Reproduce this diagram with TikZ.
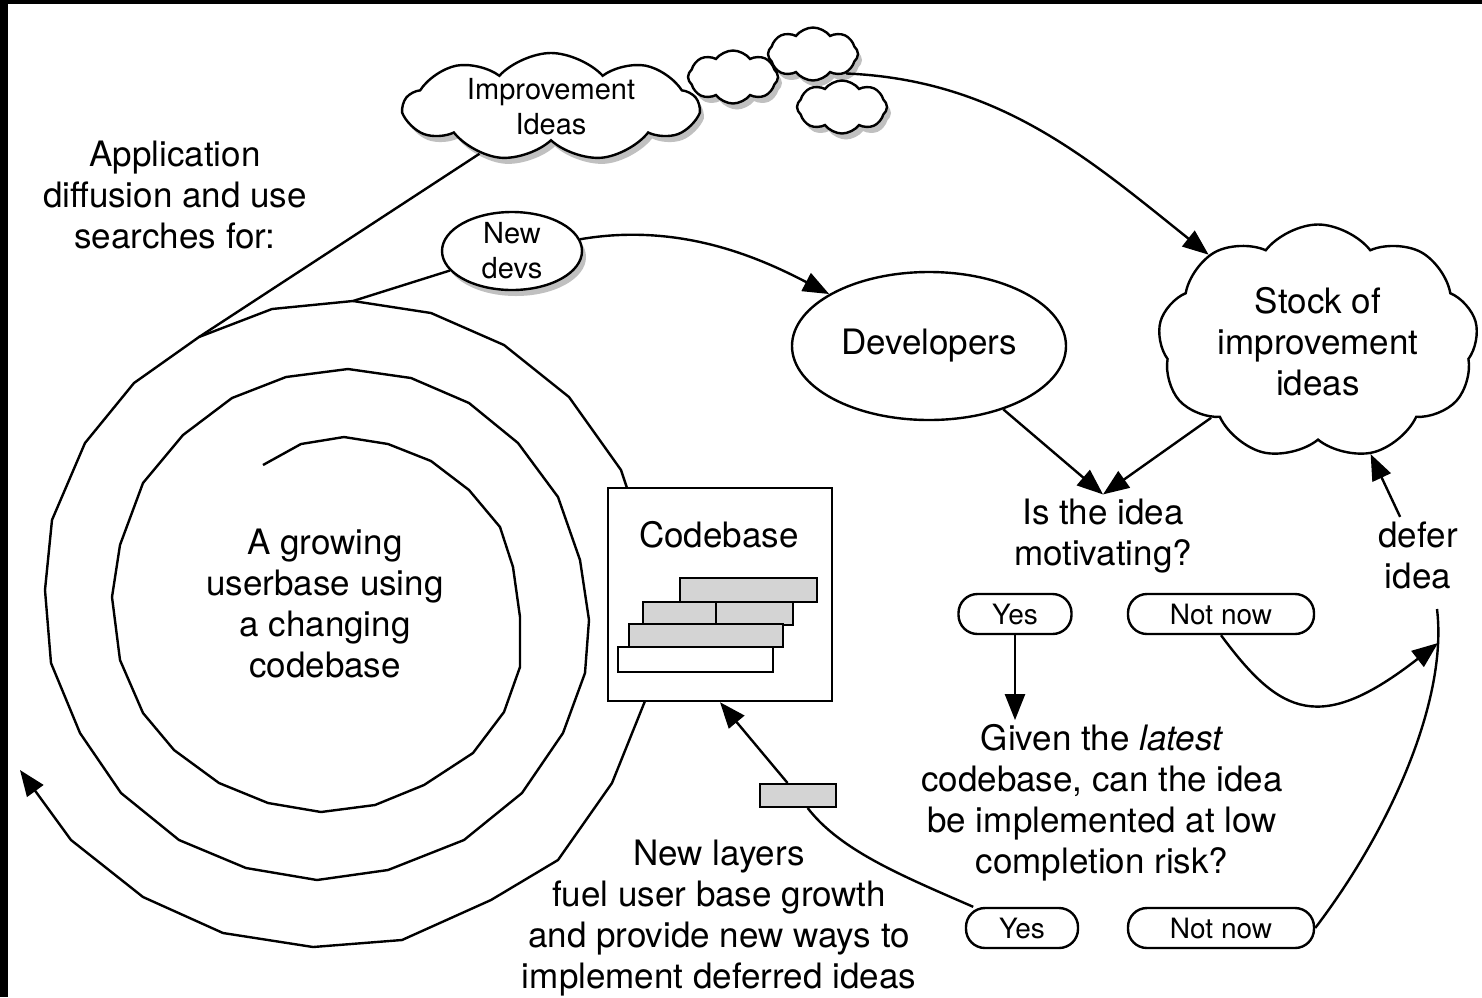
\documentclass[tikz,border=0pt]{standalone}
\usepackage{fontspec}
\setmainfont{TeX Gyre Heros}
\usetikzlibrary{arrows.meta,shapes.geometric,shapes.symbols,shadows}

\newcommand{\bigtxt}{\fontsize{35}{41}\selectfont}
\newcommand{\smalltxt}{\fontsize{29}{35}\selectfont}

\begin{document}
\begin{tikzpicture}[x=1pt,y=-1pt,line width=2.4pt,
    >={Triangle[length=26pt,width=20pt]},
    shadowed/.style={drop shadow={shadow xshift=4pt,shadow yshift=-6pt,opacity=0.45,fill=black!55}},
    puff/.style={cloud,draw,fill=white,cloud ignores aspect,cloud puff arc=105,inner sep=0pt},
    pill/.style={draw,rounded corners=19pt,minimum height=40pt,inner sep=0pt,font=\fontsize{28}{33}\selectfont},
    layer/.style={draw,fill=black!17,line width=2pt}]
    \useasboundingbox (0,0) rectangle (1482,997);
    \fill[black] (0,0) rectangle (1482,4);
    \fill[black] (0,0) rectangle (8,997);

    \begin{scope}[every node/.style={align=center,font=\bigtxt}]
        \node (17) at (175,195) {Application\\diffusion and use\\searches for:};
        \node (19) at (325,603) {A growing\\userbase using\\a changing\\codebase};
        \node (18) at (719,918) {New layers\\fuel user base growth\\and provide new ways to\\implement deferred ideas};
        \node (8) at (1103,536) {Is the idea\\motivating?};
        \node (11) at (1102,803) {Given the \textit{latest}\\codebase, can the idea\\be implemented at low\\completion risk?};
        \node (14) at (1418,555) {defer\\idea};
        \node (6) [ellipse,draw,minimum width=274pt,minimum height=148pt] at (929,346) {Developers};
        \node (15) [draw,minimum width=224pt,minimum height=213pt,inner sep=0pt] at (720,594.5) {};
        \node (cb) at (719,535) {Codebase};
        \node (7) [puff,cloud puffs=9,minimum width=320pt,minimum height=235pt,
            label={[align=center,font=\bigtxt]center:Stock of\\improvement\\ideas}] at (1318,342) {};
    \end{scope}

    \begin{scope}[every node/.style={align=center,font=\smalltxt}]
        \node (1) [puff,shadowed,cloud puffs=9,cloud puff arc=95,minimum width=294pt,minimum height=108pt,
            label={[align=center,font=\smalltxt]center:Improvement\\Ideas}] at (551,107) {};
        \node (2) [puff,shadowed,cloud puffs=8,minimum width=90pt,minimum height=53pt] at (733,77) {};
        \node (3) [puff,shadowed,cloud puffs=8,minimum width=90pt,minimum height=53pt] at (813,54) {};
        \node (4) [puff,shadowed,cloud puffs=8,minimum width=90pt,minimum height=53pt] at (842,107) {};
        \node (5) [ellipse,draw,fill=white,shadowed,minimum width=140pt,minimum height=78pt,inner sep=0pt,
            label={[align=center,font=\smalltxt]center:New\\devs}] at (512,251) {};
        \node (9) [pill,minimum width=113pt] at (1015,614) {Yes};
        \node (10) [pill,minimum width=186pt] at (1221,614) {Not now};
        \node (12) [pill,minimum width=112pt] at (1022,928) {Yes};
        \node (13) [pill,minimum width=186pt] at (1221,928) {Not now};
        \node (16) [layer,minimum width=76pt,minimum height=23pt,inner sep=0pt] at (798,795.5) {};
    \end{scope}

    \draw[layer] (680,578) rectangle (817,602);
    \draw[layer] (643,602) rectangle (716,624);
    \draw[layer] (716,602) rectangle (793,625);
    \draw[layer] (629,624) rectangle (783,647);
    \draw[layer,fill=white] (618,647) rectangle (773,672);

    \coordinate (j1) at (199,337);
    \coordinate (j2) at (353,301);
    \coordinate (s1) at (627,488);
    \coordinate (s2) at (645,701);
    \coordinate (d) at (1437,609);
    \coordinate (t) at (1438,643);

    \draw (263,465) -- (301,444) -- (344,437) -- (388,444) -- (431,461) -- (469,490)
        -- (500,527) -- (513,567) -- (520,617) -- (520,667) -- (504,712) -- (473,753)
        -- (424,785) -- (375,805) -- (321,812) -- (268,803) -- (219,783) -- (174,750)
        -- (143,713) -- (120,660) -- (112,597) -- (120,545) -- (143,483) -- (183,435)
        -- (232,398) -- (286,377) -- (348,369) -- (411,378) -- (469,403) -- (518,443)
        -- (558,497) -- (580,560) -- (589,620) -- (585,673) -- (563,733) -- (522,793)
        -- (464,840) -- (388,870) -- (317,880) -- (246,868) -- (179,840) -- (121,793)
        -- (80,733) -- (51,663) -- (45,590) -- (52,520) -- (85,443) -- (134,383)
        -- (j1) -- (272,309) -- (j2) -- (431,313) -- (504,345) -- (569,397) -- (621,470) -- (s1);
    \draw[->] (s2) -- (612,783) -- (558,860) -- (491,900) -- (402,940) -- (313,947)
        -- (223,933) -- (143,897) -- (71,840) -- (20,770);

    \begin{scope}[every edge/.style={draw,line width=2.4pt}]
        \path [-] (1) edge (j1);
        \path [-] (j2) edge (5);
        \path [->] (6) edge (8.north);
        \path [->] (7) edge (8.north);
        \path [->] (9) edge (9 |- 11.north);
        \path [->] (14) edge (7);
        \path [->] (16) edge (15.south);
    \end{scope}
    \draw[->] (5) .. controls (680,222) and (760,258) .. (6);
    \draw[->] (3.south east) .. controls (1000,80) and (1090,160) .. (7);
    \draw[->] (10.south) .. controls (1280,715) and (1320,735) .. (t);
    \draw (13.east) .. controls (1390,830) and (1448,700) .. (d);
    \draw (12) .. controls (900,875) and (840,850) .. (16);

\end{tikzpicture}
\end{document}
